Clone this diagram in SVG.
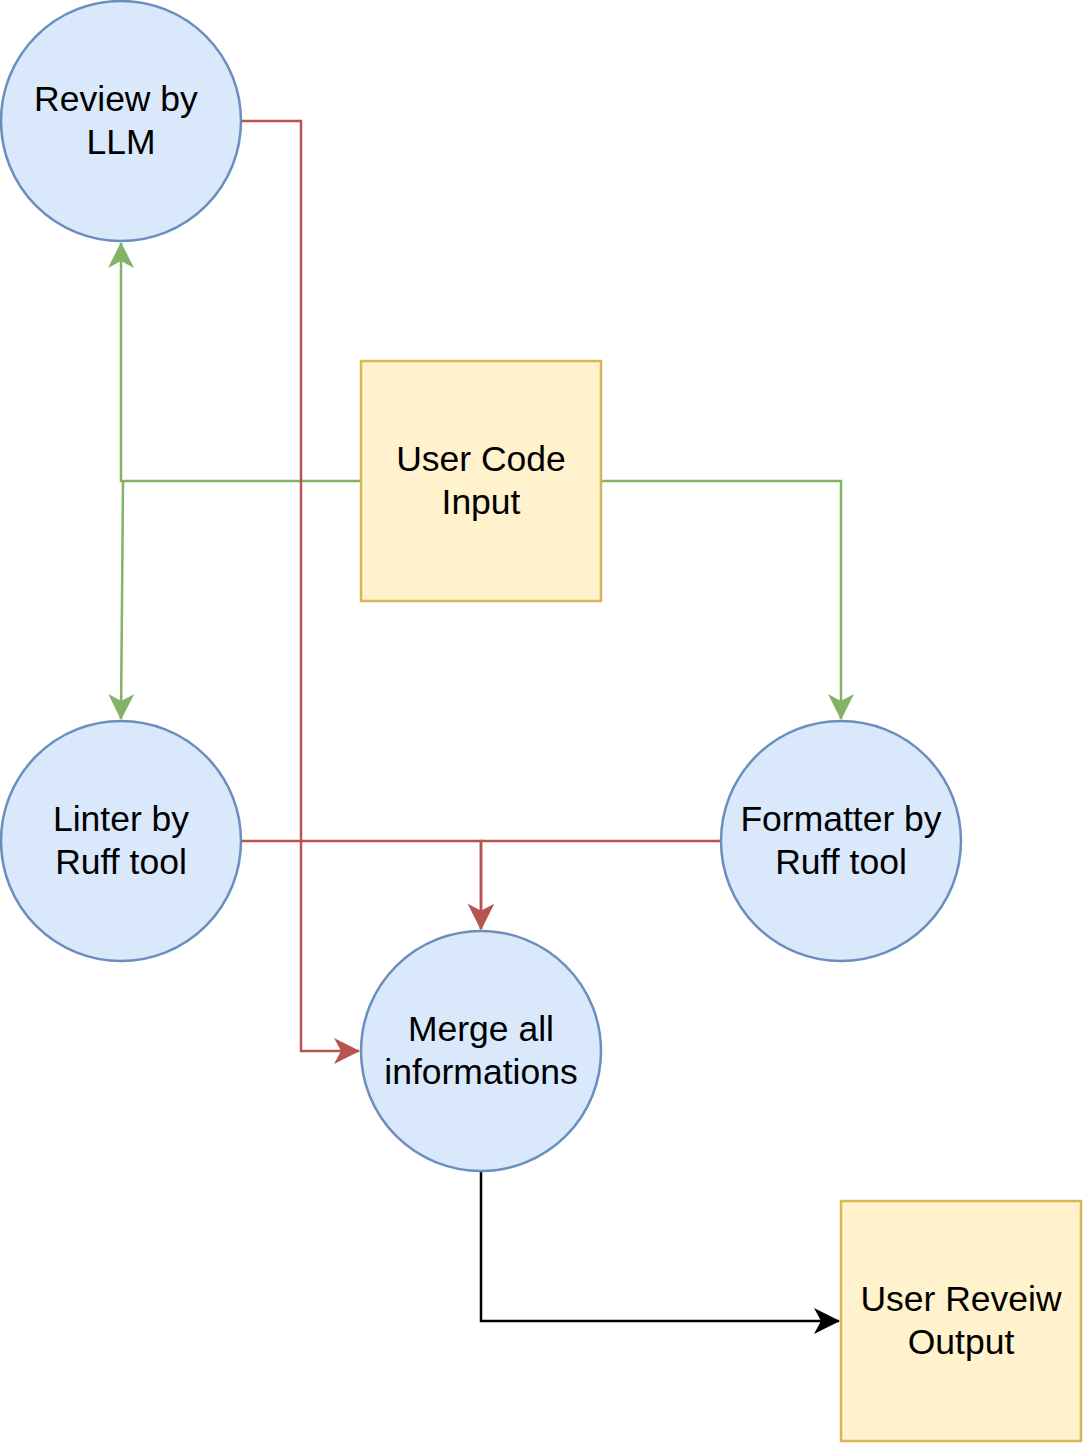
<svg xmlns="http://www.w3.org/2000/svg" width="1083" height="1443" viewBox="0 0 1083 1443">
<style>
.circ{fill:#dae8fc;stroke:#6c8ebf;stroke-width:2.5}
.box{fill:#fff2cc;stroke:#d6b656;stroke-width:2.5}
.t{font-family:"Liberation Sans",Arial,sans-serif;font-size:35.5px;fill:#000;text-anchor:middle}
.g{fill:none;stroke:#82b366;stroke-width:2.5}
.r{fill:none;stroke:#b85450;stroke-width:2.5}
.k{fill:none;stroke:#000;stroke-width:2.5}
</style>
<defs>
<marker id="ag" viewBox="0 0 26 26" refX="25" refY="13" markerWidth="26" markerHeight="26" markerUnits="userSpaceOnUse" orient="auto"><path d="M0,0 L26,13 L0,26 L7,13 Z" fill="#82b366"/></marker>
<marker id="ar" viewBox="0 0 26 26" refX="25" refY="13" markerWidth="26" markerHeight="26" markerUnits="userSpaceOnUse" orient="auto"><path d="M0,0 L26,13 L0,26 L7,13 Z" fill="#b85450"/></marker>
<marker id="ak" viewBox="0 0 26 26" refX="25" refY="13" markerWidth="26" markerHeight="26" markerUnits="userSpaceOnUse" orient="auto"><path d="M0,0 L26,13 L0,26 L7,13 Z" fill="#000"/></marker>
</defs>
<g id="connectors">
<path class="g" d="M361,481 H121 V243" marker-end="url(#ag)"/>
<path class="g" d="M123,481 L121,719" marker-end="url(#ag)"/>
<path class="g" d="M601,481 H841 V719" marker-end="url(#ag)"/>
<path class="r" d="M241,121 H301 V1051 H359" marker-end="url(#ar)"/>
<path class="r" d="M241,841 H481 V929" marker-end="url(#ar)"/>
<path class="r" d="M721,841 H481 V929" marker-end="url(#ar)"/>
<path class="k" d="M481,1171 V1321 H839" marker-end="url(#ak)"/>
</g>
<g id="review"><circle class="circ" cx="121" cy="121" r="120"/><text class="t" x="116" y="111">Review by</text><text class="t" x="121" y="154">LLM</text></g>
<g id="input"><rect class="box" x="361" y="361" width="240" height="240"/><text class="t" x="481" y="471">User Code</text><text class="t" x="481" y="514">Input</text></g>
<g id="linter"><circle class="circ" cx="121" cy="841" r="120"/><text class="t" x="121" y="831">Linter by</text><text class="t" x="121" y="874">Ruff tool</text></g>
<g id="formatter"><circle class="circ" cx="841" cy="841" r="120"/><text class="t" x="841" y="831">Formatter by</text><text class="t" x="841" y="874">Ruff tool</text></g>
<g id="merge"><circle class="circ" cx="481" cy="1051" r="120"/><text class="t" x="481" y="1041">Merge all</text><text class="t" x="481" y="1084">informations</text></g>
<g id="output"><rect class="box" x="841" y="1201" width="240" height="240"/><text class="t" x="961" y="1311">User Reveiw</text><text class="t" x="961" y="1354">Output</text></g>
</svg>
